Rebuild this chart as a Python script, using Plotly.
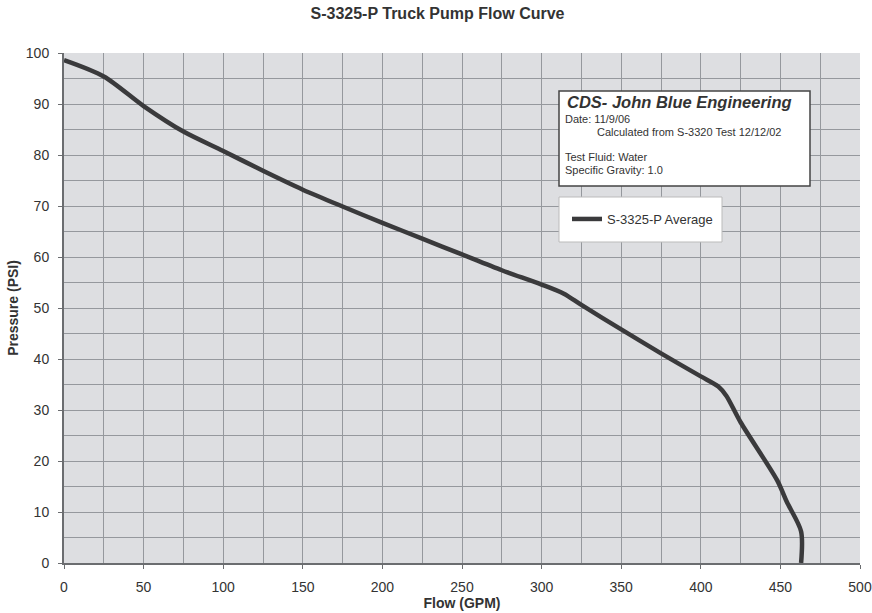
import plotly.graph_objects as go

# Data
flow_gpm = [0, 25, 50, 75, 100, 125, 150, 175, 200, 225, 250, 275, 300, 314, 325,
            350, 375, 400, 411, 416, 425, 448, 454, 463, 463]
pressure_psi = [98.6, 95.4, 89.6, 84.6, 80.8, 76.9, 73.2, 69.9, 66.7, 63.6, 60.5, 57.4,
                54.6, 52.8, 50.6, 45.8, 41.1, 36.6, 34.6, 32.8, 27.6, 16.2, 12.0, 6.2, 0]
series_name = "S-3325-P Average"
x_ticks = [0, 50, 100, 150, 200, 250, 300, 350, 400, 450, 500]
y_ticks = [0, 10, 20, 30, 40, 50, 60, 70, 80, 90, 100]

W, H = 872, 613
L, R, T, B = 64, 12, 53, 50
PW, PH = W - L - R, H - T - B


def px(xp):
    return (xp - L) / PW


def py(yp):
    return (H - B - yp) / PH


FONT = "Liberation Sans, Arial, sans-serif"
GRID = "#95989d"
BG = "#dddee1"
TXT = "#333333"

fig = go.Figure()
fig.add_trace(go.Scatter(
    x=flow_gpm, y=pressure_psi, mode="lines", name=series_name,
    line=dict(color="#3a3a3c", width=4.5, shape="spline", smoothing=0.8),
))

fig.update_layout(
    width=W, height=H,
    margin=dict(l=L, r=R, t=T, b=B, autoexpand=False),
    paper_bgcolor="white",
    plot_bgcolor=BG,
    font=dict(family=FONT, color=TXT, size=13),
    title=dict(text="<b>S-3325-P Truck Pump Flow Curve</b>", x=437.5 / W, xanchor="center",
               y=1 - 13 / H, yanchor="middle", font=dict(size=16, color=TXT)),
    showlegend=True,
    legend=dict(x=px(567), xanchor="left", y=py(219), yanchor="middle",
                bgcolor="rgba(0,0,0,0)", borderwidth=0,
                font=dict(size=13, color=TXT), itemwidth=30),
    xaxis=dict(range=[0, 500], tickvals=x_ticks, showgrid=True, gridcolor=GRID, gridwidth=1,
               minor=dict(dtick=25, showgrid=True, gridcolor=GRID, gridwidth=1),
               showline=True, linecolor="#6b6d70", linewidth=2, ticks="outside",
               ticklen=4, tickcolor="#6b6d70", zeroline=False, automargin=False,
               tickfont=dict(size=14, color=TXT), ticklabelstandoff=6,
               title=dict(text="<b>Flow (GPM)</b>", font=dict(size=14, color=TXT), standoff=2)),
    yaxis=dict(range=[0, 100], tickvals=y_ticks, showgrid=True, gridcolor=GRID, gridwidth=1,
               minor=dict(dtick=5, showgrid=True, gridcolor=GRID, gridwidth=1),
               showline=True, linecolor="#6b6d70", linewidth=2, ticks="outside",
               ticklen=4, tickcolor="#6b6d70", zeroline=False, automargin=False,
               tickfont=dict(size=14, color=TXT), ticklabelstandoff=6,
               title=dict(text="<b>Pressure (PSI)</b>", font=dict(size=14, color=TXT), standoff=4)),
)

# Info box and legend box
fig.add_shape(type="rect", xref="paper", yref="paper",
              x0=px(559), x1=px(810), y0=py(186), y1=py(91),
              fillcolor="white", line=dict(color="#444444", width=1.5), layer="above")
fig.add_shape(type="rect", xref="paper", yref="paper",
              x0=px(559), x1=px(722), y0=py(242), y1=py(197),
              fillcolor="white", line=dict(color="#bbbbbb", width=1), layer="above")

info_lines = [
    ("<b><i>CDS- John Blue Engineering</i></b>", 565, 102, 16.5),
    ("Date: 11/9/06", 563, 119, 11),
    ("Calculated from S-3320 Test 12/12/02", 595, 132, 11),
    ("Test Fluid: Water", 563, 157, 11),
    ("Specific Gravity: 1.0", 563, 170, 11),
]
for txt, xp, yp, fs in info_lines:
    fig.add_annotation(text=txt, xref="paper", yref="paper", x=px(xp), y=py(yp),
                       xanchor="left", yanchor="middle", showarrow=False,
                       font=dict(size=fs, color=TXT, family=FONT))

fig.write_html("out.html", config={"displayModeBar": False},
               post_script="document.body.style.margin='0px';document.body.style.overflow='hidden';")
